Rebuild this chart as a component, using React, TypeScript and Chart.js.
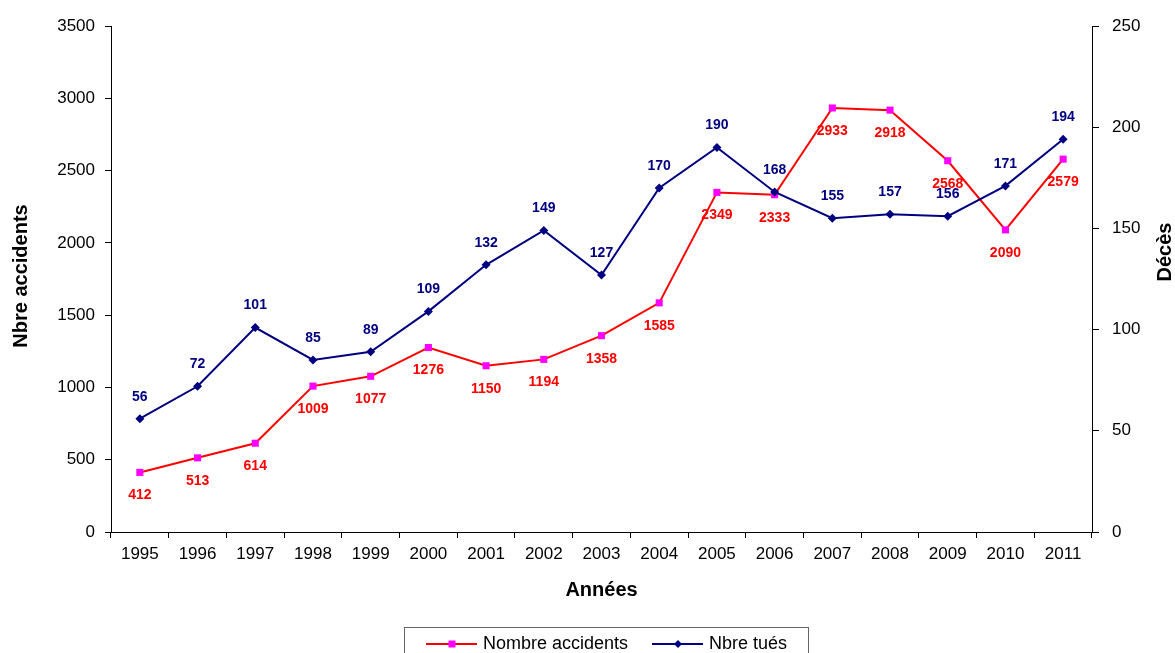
import { useEffect, useRef } from "react";
import { Chart, registerables } from "chart.js";

Chart.register(...registerables);

const years = ["1995", "1996", "1997", "1998", "1999", "2000", "2001", "2002", "2003", "2004", "2005", "2006", "2007", "2008", "2009", "2010", "2011"];
const accidents = [412, 513, 614, 1009, 1077, 1276, 1150, 1194, 1358, 1585, 2349, 2333, 2933, 2918, 2568, 2090, 2579];
const deaths = [56, 72, 101, 85, 89, 109, 132, 149, 127, 170, 190, 168, 155, 157, 156, 171, 194];

const leftTicks = { min: 0, max: 3500, step: 500 };
const rightTicks = { min: 0, max: 250, step: 50 };

const FONT = "'Liberation Sans', Arial, Helvetica, sans-serif";
const RED = "#FF0000";
const PINK = "#FF00FF";
const NAVY = "#000080";

const valueLabels = {
  id: "valueLabels",
  afterDatasetsDraw(chart: any) {
    const ctx = chart.ctx;
    ctx.save();
    ctx.font = `bold 14px ${FONT}`;
    ctx.textAlign = "center";
    ctx.textBaseline = "middle";
    chart.data.datasets.forEach((ds: any, i: number) => {
      const meta = chart.getDatasetMeta(i);
      ctx.fillStyle = ds.labelColor;
      meta.data.forEach((pt: any, j: number) => {
        ctx.fillText(String(ds.data[j]), pt.x, pt.y + ds.labelOffset);
      });
    });
    ctx.restore();
  },
};

const decorations = {
  id: "decorations",
  afterDraw(chart: any) {
    const ctx = chart.ctx;
    const ca = chart.chartArea;
    ctx.save();
    ctx.fillStyle = "#000";
    ctx.font = `bold 20px ${FONT}`;
    ctx.textAlign = "center";
    ctx.textBaseline = "middle";
    // x title
    ctx.fillText("Années", (ca.left + ca.right) / 2, 590);
    // left title
    ctx.save();
    ctx.translate(21, 276);
    ctx.rotate(-Math.PI / 2);
    ctx.fillText("Nbre accidents", 0, 0);
    ctx.restore();
    // right title
    ctx.save();
    ctx.translate(1165, 252);
    ctx.rotate(-Math.PI / 2);
    ctx.fillText("Décès", 0, 0);
    ctx.restore();

    // legend
    ctx.strokeStyle = "#666";
    ctx.lineWidth = 1;
    ctx.strokeRect(404.5, 627.5, 404, 40);
    const ly = 644;
    ctx.lineWidth = 2;
    ctx.strokeStyle = RED;
    ctx.beginPath();
    ctx.moveTo(426, ly);
    ctx.lineTo(477, ly);
    ctx.stroke();
    ctx.fillStyle = PINK;
    ctx.fillRect(448.5, ly - 3.5, 7, 7);
    ctx.strokeStyle = NAVY;
    ctx.beginPath();
    ctx.moveTo(652, ly);
    ctx.lineTo(703, ly);
    ctx.stroke();
    ctx.fillStyle = NAVY;
    ctx.beginPath();
    ctx.moveTo(678, ly - 4);
    ctx.lineTo(682, ly);
    ctx.lineTo(678, ly + 4);
    ctx.lineTo(674, ly);
    ctx.closePath();
    ctx.fill();
    ctx.fillStyle = "#000";
    ctx.font = `18px ${FONT}`;
    ctx.textAlign = "left";
    ctx.fillText("Nombre accidents", 483, ly);
    ctx.fillText("Nbre tués", 709, ly);
    ctx.restore();
  },
};

const plain = (v: any) => String(v);

export default function App() {
  const ref = useRef<HTMLCanvasElement | null>(null);
  useEffect(() => {
    if (!ref.current) return;
    const chart = new Chart(ref.current, {
      type: "line",
      data: {
        labels: years,
        datasets: [
          {
            label: "Nombre accidents",
            data: accidents,
            yAxisID: "y",
            borderColor: RED,
            borderWidth: 2,
            backgroundColor: PINK,
            pointBackgroundColor: PINK,
            pointBorderColor: PINK,
            pointStyle: "rect",
            pointRadius: 5,
            pointBorderWidth: 0,
            tension: 0,
            order: 2,
            labelColor: RED,
            labelOffset: 23,
          } as any,
          {
            label: "Nbre tués",
            data: deaths,
            yAxisID: "y1",
            borderColor: NAVY,
            borderWidth: 2,
            backgroundColor: NAVY,
            pointBackgroundColor: NAVY,
            pointBorderColor: NAVY,
            pointStyle: "rectRot",
            pointRadius: 4.5,
            pointBorderWidth: 0,
            tension: 0,
            order: 1,
            labelColor: NAVY,
            labelOffset: -22,
          } as any,
        ],
      },
      options: {
        responsive: true,
        maintainAspectRatio: false,
        animation: false,
        layout: { padding: { top: 26, left: 0, right: 0, bottom: 0 } },
        plugins: {
          legend: { display: false },
          tooltip: { enabled: false },
          title: { display: false },
        },
        scales: {
          x: {
            type: "category",
            offset: true,
            grid: { display: true, offset: true, drawOnChartArea: false, color: "#000", tickLength: 6, tickColor: "#000" },
            border: { display: true, color: "#000", width: 1 },
            ticks: { color: "#000", font: { family: FONT, size: 17 }, padding: 6, maxRotation: 0, autoSkip: false },
            afterFit: (s: any) => { s.height = 121; },
          },
          y: {
            type: "linear",
            position: "left",
            min: leftTicks.min,
            max: leftTicks.max,
            grid: { display: true, drawOnChartArea: false, color: "#000", tickLength: 6 },
            border: { display: true, color: "#000", width: 1 },
            ticks: { stepSize: leftTicks.step, color: "#000", font: { family: FONT, size: 17 }, padding: 10, callback: plain },
            afterFit: (s: any) => { s.width = 111; },
          },
          y1: {
            type: "linear",
            position: "right",
            min: rightTicks.min,
            max: rightTicks.max,
            grid: { display: true, drawOnChartArea: false, color: "#000", tickLength: 7 },
            border: { display: true, color: "#000", width: 1 },
            ticks: { stepSize: rightTicks.step, color: "#000", font: { family: FONT, size: 17 }, padding: 13, callback: plain },
            afterFit: (s: any) => { s.width = 83; },
          },
        },
      },
      plugins: [valueLabels, decorations],
    });
    return () => chart.destroy();
  }, []);
  return (
    <div style={{ position: "fixed", left: 0, top: 0, width: 1175, height: 653, background: "#fff" }}>
      <canvas ref={ref} />
    </div>
  );
}
